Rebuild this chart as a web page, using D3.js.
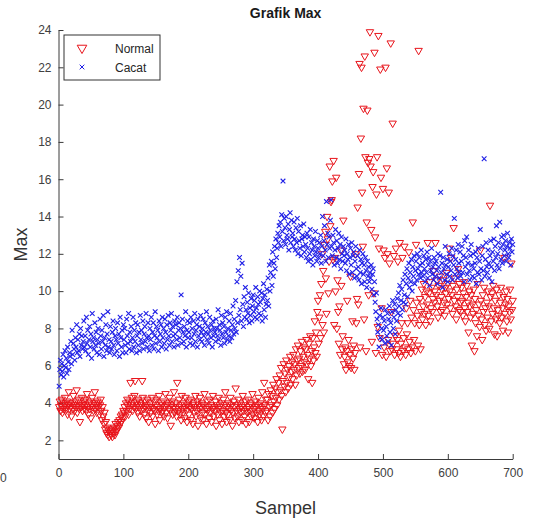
<!DOCTYPE html>
<html>
<head>
<meta charset="utf-8">
<script src="https://cdn.jsdelivr.net/npm/d3@7"></script>
<style>
  body { margin: 0; background: #fff; }
  svg { display: block; font-family: "Liberation Sans", Arial, sans-serif; }
  .axis path, .axis line { stroke: #3a3a3a; }
  .axis text { fill: #404040; font-size: 12px; }
</style>
</head>
<body>
<svg id="chart" width="536" height="524"></svg>
<script>
const X_TICKS = [0, 100, 200, 300, 400, 500, 600, 700];
const Y_TICKS = [2, 4, 6, 8, 10, 12, 14, 16, 18, 20, 22, 24];
const SERIES = ["Normal", "Cacat"];

// Max value per sample, class "Normal" (samples 1..700)
const normal = [
  3.8,4.1,3.6,3.9,4.2,3.5,3.7,4.0,3.9,4.3,3.6,3.8,4.1,3.4,3.9,4.6,3.7,4.0,3.8,3.3,
  4.0,3.7,4.4,3.9,3.6,4.1,3.8,4.7,3.5,3.9,4.2,3.7,3.0,4.0,3.8,4.3,3.6,3.9,4.1,3.7,
  3.9,4.2,3.6,4.5,3.8,3.4,4.0,3.7,4.1,3.2,3.9,4.3,3.8,3.6,4.0,4.6,3.7,3.9,3.5,4.1,
  3.8,4.0,3.4,3.9,4.2,3.6,3.1,3.8,3.3,2.9,3.5,2.6,3.0,2.4,2.7,2.3,2.5,2.2,2.6,2.4,
  2.3,2.6,2.2,2.5,2.4,2.7,2.3,2.9,2.5,2.6,2.8,3.0,2.7,3.1,2.9,3.3,3.0,3.4,3.2,3.6,
  3.5,3.8,3.3,4.0,3.6,4.2,3.9,3.4,4.1,3.7,5.1,3.9,4.3,3.6,4.0,3.8,4.4,5.2,3.7,4.1,
  3.9,3.5,4.2,3.8,3.3,4.0,3.6,3.9,5.2,4.3,3.7,3.4,4.1,3.8,3.2,3.9,4.2,3.6,3.0,3.8,
  4.0,3.5,3.8,4.3,3.3,3.7,4.1,3.6,2.9,3.9,4.2,3.4,3.8,3.6,4.4,3.1,3.7,4.0,3.5,3.9,
  3.6,4.1,3.3,3.8,4.5,3.5,3.9,3.2,4.0,3.7,4.3,3.6,2.8,3.9,4.1,3.4,3.8,4.6,3.5,3.7,
  4.0,3.3,5.1,3.8,3.6,4.2,3.4,3.9,3.1,4.4,3.7,3.5,4.0,3.2,3.8,4.3,3.6,3.0,3.9,4.1,
  3.4,3.8,4.2,3.1,3.7,3.9,2.9,4.0,3.5,3.8,4.4,3.3,3.6,4.1,2.8,3.9,3.7,4.3,3.2,3.8,
  4.0,3.5,3.1,3.9,4.5,3.4,3.7,2.9,4.1,3.6,3.8,3.2,4.2,3.5,3.9,3.0,3.7,4.4,3.3,3.8,
  3.6,4.1,2.8,3.9,3.4,3.7,4.3,3.1,3.8,3.5,4.0,2.9,3.6,4.2,3.3,3.9,4.6,3.5,3.0,3.8,
  3.4,4.0,3.7,3.1,4.3,3.6,3.9,2.8,3.5,4.1,3.8,3.2,4.8,3.6,3.9,3.3,4.2,3.0,3.7,4.0,
  3.5,3.8,3.1,4.4,3.6,3.9,3.3,4.1,2.9,3.7,3.5,4.2,3.8,3.0,3.6,4.0,3.3,3.9,4.5,3.4,
  3.7,3.2,4.1,3.8,3.5,3.9,3.0,4.3,3.6,3.4,4.0,3.8,3.1,4.6,3.7,3.3,5.1,3.9,3.5,4.2,
  3.6,4.2,3.1,4.5,3.8,3.3,4.7,3.9,4.4,3.5,5.0,4.1,3.7,4.8,4.3,5.3,3.9,4.6,5.1,4.2,
  5.5,4.7,5.9,4.4,2.6,5.2,6.1,4.9,5.6,4.6,6.3,5.1,5.8,4.8,6.0,5.4,6.5,5.0,5.7,6.2,
  5.3,6.6,5.8,6.1,5.0,6.9,5.5,6.3,7.1,5.9,6.4,5.6,6.8,6.0,7.3,5.7,6.5,7.0,6.2,5.8,
  6.9,7.4,6.1,6.6,5.3,7.2,6.4,7.6,6.0,6.8,5.1,7.5,6.3,7.0,8.4,6.7,7.8,6.5,8.9,9.5,
  7.2,8.6,9.8,7.5,10.4,12.0,8.2,11.1,7.8,12.5,13.2,10.7,8.8,14.0,12.8,9.9,11.6,16.7,13.5,14.8,
  14.9,15.9,11.7,17.0,8.2,11.8,10.0,16.1,8.0,10.6,8.9,7.2,9.2,6.6,12.2,10.3,6.9,7.6,13.8,6.1,
  6.5,7.0,5.8,6.8,9.5,6.2,7.4,6.0,6.6,10.8,5.9,6.9,8.4,6.4,7.1,5.8,6.7,12.0,8.3,9.6,
  14.5,9.3,16.3,22.2,7.0,18.2,22.0,15.3,12.4,19.8,8.5,22.6,17.2,6.8,13.7,19.7,16.9,9.8,17.1,23.9,
  16.7,13.3,7.3,15.6,16.4,9.9,22.8,12.9,6.7,15.2,17.2,8.1,23.7,12.3,7.5,21.9,16.1,9.1,6.6,15.5,
  12.2,7.0,11.8,22.0,6.5,16.6,12.0,7.4,15.3,11.5,6.8,23.3,8.9,6.9,19.0,7.2,11.9,6.6,7.6,12.3,
  6.9,7.4,11.6,6.7,7.9,12.6,6.5,7.2,8.3,11.8,6.8,7.5,12.4,7.0,6.6,9.1,7.7,8.3,6.9,12.1,
  7.3,9.5,6.7,8.6,7.0,13.7,9.0,7.4,8.3,6.8,12.5,9.4,8.7,7.1,22.9,8.2,9.6,6.9,8.9,10.1,
  8.5,9.2,10.4,8.8,9.7,8.2,10.0,9.3,12.6,8.7,9.9,10.5,8.4,9.1,10.2,8.9,9.6,11.1,9.4,10.0,
  12.6,9.8,10.6,9.2,8.6,10.3,9.5,10.8,8.9,9.7,10.1,9.0,10.6,9.4,8.7,10.2,9.9,11.0,9.3,10.4,
  9.6,12.3,10.0,9.1,11.8,9.8,8.8,10.3,13.4,9.5,10.7,9.2,8.5,10.1,9.7,11.2,9.0,10.4,9.4,8.9,
  10.2,9.5,8.7,9.9,10.5,9.1,8.4,9.7,10.3,8.9,9.4,7.8,10.0,9.2,8.6,9.8,7.1,9.3,8.8,10.1,
  6.8,9.6,8.3,9.0,7.6,10.4,8.7,9.3,8.1,12.2,9.5,8.5,7.4,9.8,8.9,10.2,8.2,9.1,7.9,9.4,
  8.6,10.0,9.2,8.0,14.6,9.7,8.4,9.9,8.8,10.3,9.1,7.7,9.5,8.5,10.1,7.6,9.0,8.7,9.8,8.3,
  9.4,10.2,8.6,9.1,7.9,9.7,11.8,8.8,9.3,10.0,8.4,9.6,7.8,9.2,8.9,10.1,8.5,11.5,9.0,9.5
];

// Max value per sample, class "Cacat" (samples 1..700)
const cacat = [
  4.9,5.8,6.3,5.5,6.1,5.7,6.6,5.4,6.0,6.8,5.9,6.4,5.6,7.0,6.2,5.8,6.7,6.5,7.3,6.1,
  7.9,6.6,7.2,6.9,6.3,7.5,7.0,8.2,6.7,7.4,6.8,7.7,6.5,8.0,7.1,7.6,6.9,7.3,8.4,7.0,
  7.6,6.8,8.6,7.2,7.9,6.6,7.4,8.1,7.0,7.7,6.4,8.8,7.3,7.5,6.9,8.3,7.1,7.8,6.7,7.4,
  8.0,7.2,6.6,8.5,7.6,6.9,7.9,7.3,8.7,6.5,7.5,7.1,8.2,6.8,7.7,8.9,7.0,7.4,6.7,8.1,
  7.3,6.9,7.8,8.4,7.1,6.6,7.6,8.0,7.4,6.8,8.3,7.2,7.7,6.5,8.6,7.5,7.0,7.9,6.7,8.2,
  7.4,8.0,7.1,6.7,8.5,7.6,7.2,8.8,6.9,7.8,7.3,8.1,6.8,7.5,8.6,7.0,7.9,7.3,8.3,6.7,
  7.6,8.2,7.1,7.8,6.8,8.7,7.4,7.9,7.2,8.4,6.9,7.7,8.1,7.3,8.8,7.5,7.0,8.3,7.6,6.8,
  8.0,7.4,8.6,7.1,7.8,8.3,6.9,7.6,8.9,7.2,8.1,7.5,7.9,6.8,8.4,7.3,7.7,8.2,7.0,8.6,
  7.5,8.0,7.2,8.5,7.8,6.9,8.2,7.4,8.7,7.6,7.1,8.3,7.9,8.8,7.3,8.1,7.6,7.0,8.4,7.7,
  8.2,7.4,8.6,7.1,7.9,8.3,7.5,8.0,9.8,7.2,8.5,7.8,7.3,8.1,7.6,8.9,7.0,7.9,8.4,7.5,
  7.8,8.3,7.2,8.6,7.5,8.0,7.1,8.4,7.7,8.8,7.3,7.9,8.2,7.0,8.5,7.6,8.1,7.4,8.7,7.8,
  7.3,8.0,8.5,7.6,7.1,8.3,7.8,8.9,7.4,8.1,7.7,7.2,8.6,7.9,7.5,8.2,7.0,8.4,7.6,8.0,
  7.8,7.3,8.5,8.0,7.6,9.0,7.4,8.2,7.9,7.1,8.7,7.7,8.3,7.5,8.1,7.2,8.6,7.8,8.9,7.4,
  8.0,7.6,8.4,7.3,8.8,7.9,7.5,8.2,9.2,7.7,8.5,8.0,9.5,7.8,10.5,8.3,11.1,8.7,11.8,9.0,
  10.8,8.4,11.5,9.3,8.1,9.7,8.6,10.2,9.0,8.5,9.4,8.8,9.9,8.3,9.1,8.7,9.6,8.4,9.2,9.8,
  8.9,9.5,8.6,10.2,9.1,8.5,9.7,9.3,8.8,10.0,9.4,8.7,9.9,8.4,9.6,10.4,9.0,9.8,8.6,9.3,
  10.1,9.5,10.7,9.2,11.4,10.0,11.0,11.6,10.3,12.1,10.8,11.5,12.4,11.2,12.8,11.8,12.3,13.1,12.6,13.5,
  12.9,13.7,12.4,14.1,13.2,15.9,12.7,13.9,13.4,12.5,14.0,13.0,12.8,13.6,12.2,13.3,14.2,12.6,13.8,12.9,
  13.1,12.4,13.7,12.8,12.2,13.4,12.6,13.9,12.0,13.2,12.7,12.3,13.5,11.9,12.8,13.0,12.4,13.6,12.1,12.9,
  12.5,11.8,13.1,12.3,11.6,12.9,12.0,13.3,11.7,12.6,12.2,11.4,12.8,12.4,11.9,13.2,12.1,11.6,12.7,12.3,
  11.8,12.6,12.0,13.0,11.5,12.4,14.0,11.9,12.7,13.5,12.2,11.6,14.8,12.5,13.1,11.8,12.9,12.3,13.8,14.9,
  12.4,11.9,13.0,12.6,11.4,12.2,13.3,11.8,12.7,11.5,12.3,13.1,11.7,12.5,11.2,12.9,12.0,11.6,12.4,11.9,
  12.2,11.5,12.8,11.1,12.0,11.7,12.5,10.9,11.8,12.3,11.4,12.6,11.0,11.9,12.1,10.7,11.6,12.4,11.2,10.8,
  11.9,11.3,10.6,12.2,11.0,11.7,10.4,11.5,12.0,10.9,11.4,10.5,11.8,11.1,10.2,11.6,10.8,11.3,10.5,11.0,
  10.7,11.4,10.1,10.9,11.2,9.8,10.5,9.4,8.9,9.9,8.5,7.8,8.2,7.0,8.7,7.5,9.1,8.0,7.4,8.6,
  7.9,8.4,7.2,9.0,8.1,7.6,8.8,7.3,8.5,9.2,7.8,8.3,7.1,8.9,9.5,8.0,8.6,9.3,7.7,9.0,
  8.4,9.6,8.8,9.9,9.2,10.3,8.7,9.5,10.1,9.0,10.6,9.4,9.8,10.9,9.3,10.4,11.2,9.7,10.7,11.5,
  10.2,11.0,10.5,11.7,10.0,11.3,10.8,11.9,10.4,11.1,11.6,10.6,12.0,11.2,10.9,11.8,11.4,10.7,12.2,11.0,
  11.5,10.8,11.9,11.2,10.5,11.7,11.0,12.1,10.7,11.4,11.8,10.3,11.6,11.1,12.3,10.9,11.3,10.6,11.8,11.5,
  10.8,11.6,11.1,10.4,12.0,11.3,10.7,11.9,15.3,11.0,11.5,10.2,11.8,11.2,10.6,12.4,11.4,10.9,11.7,10.5,
  11.3,12.0,10.8,11.6,11.1,12.3,10.6,11.9,11.4,13.9,10.9,11.7,12.2,11.2,10.7,12.5,11.5,11.0,12.1,10.8,
  11.6,12.4,11.0,11.9,10.5,12.7,11.3,11.8,12.9,10.9,11.5,12.2,11.1,10.6,11.9,12.5,11.4,10.8,12.0,11.2,
  10.7,11.5,12.1,10.4,11.8,11.0,12.3,10.9,11.6,13.3,11.2,10.6,11.9,12.4,11.1,17.1,10.8,11.7,12.6,11.3,
  11.0,12.2,11.5,10.7,11.9,12.7,11.3,10.5,12.1,11.6,12.8,11.1,12.4,11.8,13.5,11.4,12.0,12.6,11.2,13.7,
  12.3,11.7,12.9,11.5,12.5,13.0,11.9,12.2,12.7,11.6,12.4,13.1,12.0,11.8,12.6,12.3,11.4,12.8,12.1,12.5
];

const COLORS = { Normal: "#e8141b", Cacat: "#1f1fe6" };

const svg = d3.select("#chart");
const margin = { left: 58.5, right: 23.3, top: 30, bottom: 65 };
const width = 536 - margin.left - margin.right;
const height = 524 - margin.top - margin.bottom;

const g = svg.append("g").attr("transform", `translate(${margin.left},${margin.top})`);

// sample index (x-axis)
const xScale = d3.scaleLinear().domain([0, 700]).range([0, width]);
// max value (y-axis)
const yScale = d3.scaleLinear().domain([1, 24]).range([height, 0]);

// axes, ticks pointing inward like matlab
g.append("g")
  .attr("class", "axis axis-x")
  .attr("transform", `translate(0, ${height})`)
  .call(d3.axisBottom(xScale).tickValues(X_TICKS).tickSizeInner(-5).tickSizeOuter(0).tickPadding(9));
g.append("g")
  .attr("class", "axis axis-y")
  .call(d3.axisLeft(yScale).tickValues(Y_TICKS).tickSizeInner(-5).tickSizeOuter(0).tickPadding(7));

// markers
const tri = d3.symbol().type(d3.symbolTriangle).size(24);
g.append("g")
  .selectAll("path")
  .data(normal)
  .join("path")
  .attr("d", tri)
  .attr("transform", (d, i) => `translate(${xScale(i + 1)},${yScale(d)}) rotate(180)`)
  .attr("fill", "none")
  .attr("stroke", COLORS.Normal)
  .attr("stroke-width", 1);

const cross = d3.symbol().type(d3.symbolX).size(16);
g.append("g")
  .selectAll("path")
  .data(cacat)
  .join("path")
  .attr("d", cross)
  .attr("transform", (d, i) => `translate(${xScale(i + 1)},${yScale(d)})`)
  .attr("fill", "none")
  .attr("stroke", COLORS.Cacat)
  .attr("stroke-width", 1.1);

// title and labels
svg.append("text")
  .attr("x", margin.left + width / 2)
  .attr("y", 18)
  .attr("text-anchor", "middle")
  .attr("font-size", 14)
  .attr("font-weight", "bold")
  .attr("fill", "#1a1a1a")
  .text("Grafik Max");

svg.append("text")
  .attr("x", margin.left + width / 2)
  .attr("y", 514)
  .attr("text-anchor", "middle")
  .attr("font-size", 18)
  .attr("fill", "#333")
  .text("Sampel");

svg.append("text")
  .attr("transform", `translate(27, ${margin.top + height / 2}) rotate(-90)`)
  .attr("text-anchor", "middle")
  .attr("font-size", 18)
  .attr("fill", "#333")
  .text("Max");

// stray tick label at the left edge
svg.append("text")
  .attr("x", 0)
  .attr("y", 482)
  .attr("font-size", 12)
  .attr("fill", "#404040")
  .text("0");

// legend
const legend = svg.append("g").attr("transform", "translate(64, 35)");
legend.append("rect")
  .attr("width", 96)
  .attr("height", 45)
  .attr("fill", "#fff")
  .attr("stroke", "#333")
  .attr("stroke-width", 1);
SERIES.forEach((name, i) => {
  const row = legend.append("g").attr("transform", `translate(0, ${13 + i * 19})`);
  row.append("path")
    .attr("d", name === "Normal" ? d3.symbol().type(d3.symbolTriangle).size(40)() : cross())
    .attr("transform", `translate(18, 0)${name === "Normal" ? " rotate(180)" : ""}`)
    .attr("fill", "none")
    .attr("stroke", COLORS[name]);
  row.append("text")
    .attr("x", 51)
    .attr("y", 4.5)
    .attr("font-size", 12)
    .attr("fill", "#262626")
    .text(name);
});
</script>
</body>
</html>
